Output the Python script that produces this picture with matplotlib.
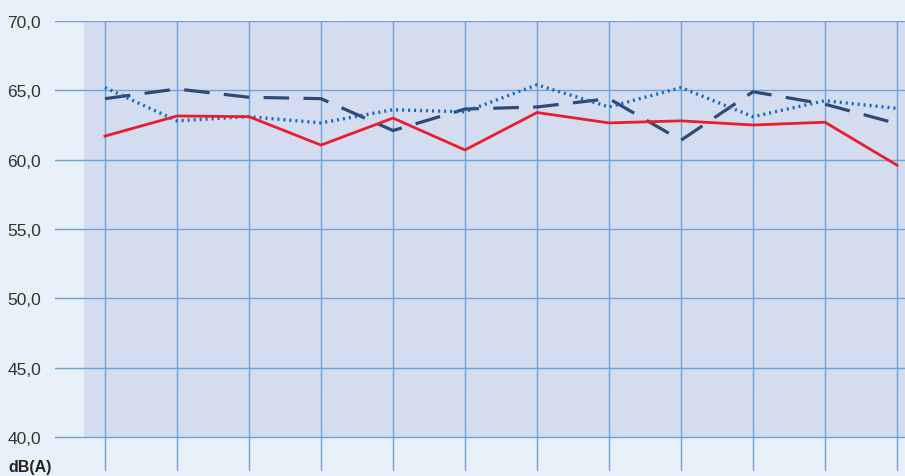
import matplotlib.pyplot as plt
from matplotlib.patches import Rectangle

plt.rcParams['font.family'] = ['Liberation Sans', 'DejaVu Sans']

# 12 measurement points, values in dB(A)
x = list(range(12))
rot = [61.7, 63.15, 63.1, 61.05, 63.0, 60.7, 63.4, 62.65, 62.8, 62.5, 62.7, 59.6]
gestrichelt = [64.4, 65.1, 64.5, 64.4, 62.1, 63.65, 63.8, 64.4, 61.4, 64.9, 64.0, 62.6]
gepunktet = [65.2, 62.8, 63.1, 62.65, 63.6, 63.45, 65.4, 63.8, 65.2, 63.1, 64.25, 63.7]
y_ticks = [40, 45, 50, 55, 60, 65, 70]
y_labels = ['40,0', '45,0', '50,0', '55,0', '60,0', '65,0', '70,0']

bg = '#e8f0fa'
fig = plt.figure(figsize=(9.05, 4.77), dpi=100, facecolor=bg)
ax = fig.add_axes([55 / 905, 5 / 477, 850 / 905, 450 / 477])
ax.set_facecolor(bg)

ax.set_xlim(-50 / 72, 800 / 72)
ax.set_ylim(40 - 34 / 13.87, 70)

# shaded plot area
ax.add_patch(Rectangle((-21 / 72, 40), 12, 30, facecolor='#d4ddef', edgecolor='none', zorder=0))

grid_c = '#72a0d8'
for v in y_ticks:
    ax.axhline(v, color=grid_c, lw=1.0, zorder=1)
for i in x:
    ax.axvline(i, color=grid_c, lw=1.0, zorder=1)

ax.plot(x, gestrichelt, color='#2e4a75', lw=2.3, linestyle=(0, (8, 4.5)), zorder=3)
ax.plot(x, gepunktet, color='#1168c0', lw=2.4, linestyle=(0, (0.6, 1.2)), zorder=3)
ax.plot(x, rot, color='#ea1d2c', lw=2.0, zorder=4)

ax.set_yticks(y_ticks)
ax.set_yticklabels(y_labels, fontsize=12.5, color='#333333')
ax.tick_params(axis='y', length=0, pad=10)
ax.set_xticks([])
for s in ax.spines.values():
    s.set_visible(False)

fig.text(8 / 905, 1 - 468 / 477, 'dB(A)', fontsize=11.5, fontweight='bold', color='#222222', va='center')

fig.savefig('out.png', dpi=100, facecolor=bg)
